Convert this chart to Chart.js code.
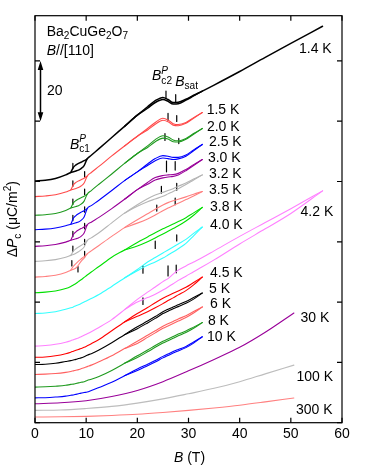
<!DOCTYPE html>
<html>
<head>
<meta charset="utf-8">
<script src="https://cdn.jsdelivr.net/npm/chart.js@4.4.0/dist/chart.umd.min.js"></script>
<style>
  html, body { margin: 0; padding: 0; background: #fff; }
  #wrap { width: 374px; height: 466px; position: relative; }
</style>
</head>
<body>
<div id="wrap"><canvas id="pcChart"></canvas></div>
<script>
'use strict'

// field grids (T)
var B_MAIN = [0, 2, 4, 6, 7, 7.5, 8, 8.5, 9, 9.6, 10.2, 11, 12.5, 15, 17.5, 20, 22, 23.5, 25, 26, 27, 28, 29.5, 31, 32.7];
var B_LONG = [0, 2, 4, 6, 7, 7.5, 8, 8.5, 9, 9.6, 10.2, 11, 12.5, 15, 17.5, 20, 22, 23.5, 25, 26, 27, 28, 29.5, 31, 32.7, 35, 40, 45, 50, 56.2];
var B_LENS = [7, 7.5, 8, 8.5, 9, 9.6, 10.2];
var B_HYST = [17.5, 20, 22, 23.5, 25, 26, 27, 28, 29.5, 31, 32.7];
var B_HYST_LONG = [17.5, 20, 22, 23.5, 25, 26, 27, 28, 29.5, 31, 32.7, 35, 40, 45, 50, 56.2];
var B_HIGH_T = [0, 5, 10, 15, 20, 25, 30, 35, 40, 45, 50.6];

// offset Delta P_c curves (uC/m^2)
var P_1_4K = [80.2, 80.4, 81, 82.2, 83, 83.25, 83.5, 83.8, 84.3, 85.3, 87.5, 88.7, 90.9, 94.6, 98.3, 102, 104.8, 106.8, 107.9, 107.2, 106.2, 106.3, 107.3, 108.6, 110, 112, 116.5, 121.2, 125.8, 131.5];
var LENS_1_4K = [83, 84.7, 85.5, 86, 86.4, 86.9, 87.5];
var HYST_1_4K = [98.3, 102, 104.3, 106.2, 107.2, 106.6, 105.7, 105.8, 107, 108.4, 110];

var P_1_5K = [75, 75.2, 75.6, 76.5, 77.2, 77.45, 77.7, 78, 78.5, 79.5, 81.8, 83, 85, 88.5, 91.8, 95, 97.6, 99.6, 101, 100.4, 99.2, 98.9, 99.6, 101.2, 102.9];
var LENS_1_5K = [77.2, 78.9, 79.7, 80.2, 80.6, 81.1, 81.8];
var HYST_1_5K = [91.8, 95, 97.1, 99, 100.3, 99.8, 98.7, 98.5, 99.3, 101, 102.9];

var P_2_0K = [68.8, 69, 69.4, 70.4, 71.2, 71.45, 71.7, 72, 72.5, 73.5, 75.8, 77, 79.1, 82.5, 86, 89.3, 91.8, 93.9, 95.2, 94.8, 93.8, 93.5, 94.3, 95.9, 97.6];
var LENS_2_0K = [71.2, 72.9, 73.7, 74.2, 74.6, 75.1, 75.8];
var HYST_2_0K = [86, 89.3, 91.3, 93.2, 94.4, 94.1, 93.2, 93.1, 94, 95.7, 97.6];

var P_2_5K = [64, 64.2, 64.6, 65.3, 65.8, 66.05, 66.3, 66.6, 67.1, 68.2, 71, 72, 73.8, 77, 80.3, 83.2, 85.8, 87.6, 88.6, 88.4, 88, 88, 88.8, 90.5, 92.3];
var LENS_2_5K = [65.8, 67.8, 68.7, 69.3, 69.8, 70.3, 71];
var HYST_2_5K = [80.3, 83.2, 85.3, 86.9, 87.8, 87.6, 87.3, 87.5, 88.4, 90.2, 92.3];

var P_3_0K = [58.5, 58.7, 59.1, 59.9, 60.5, 60.75, 61, 61.3, 61.8, 62.9, 65.6, 66.5, 68.1, 71, 74.1, 77.3, 79.7, 81.3, 82, 82.2, 82.3, 82.7, 84, 85.6, 87.3];
var LENS_3_0K = [60.5, 62.4, 63.3, 63.9, 64.4, 64.9, 65.6];
var HYST_3_0K = [74.1, 77.3, 79.1, 80.5, 81.2, 81.5, 81.7, 82.2, 83.6, 85.3, 87.3];

var P_3_2K = [53.5, 53.7, 54.1, 54.9, 55.5, 55.8, 56.2, 56.7, 57.3, 58.3, 60.4, 61.3, 63, 66.3, 69.5, 72.3, 74.3, 75.5, 76.4, 77, 77.6, 78.4, 79.5, 80.8, 82.2];
var LENS_3_2K = [55.5, 56.9, 57.7, 58.3, 58.8, 59.5, 60.4];
var HYST_3_2K = [69.5, 71.8, 73.3, 74.2, 75.1, 75.9, 76.7, 77.6, 79, 80.5, 82.2];

var P_3_5K = [48.3, 48.5, 48.9, 49.8, 50.6, 50.9, 51.3, 52.3, 53.5, 54.6, 56, 57, 58.8, 61.8, 64.7, 67.3, 69.3, 70.8, 72.2, 73, 73.6, 74.1, 74.9, 75.8, 76.7];
var LENS_3_5K = [50.6, 51.9, 52.8, 53.6, 54.3, 55.1, 56];
var HYST_3_5K = [64.7, 66.2, 67.6, 68.9, 70.3, 71.2, 72, 72.8, 74, 75.2, 76.7];

var P_3_8K = [43.1, 43.3, 43.7, 44.5, 45.2, 45.7, 46.2, 46.8, 47.4, 48.2, 49, 50, 51.8, 54.9, 57.3, 59.8, 61.6, 63, 64.3, 65.1, 65.9, 66.7, 68, 69.6, 71.4];
var HYST_3_8K = [57.3, 58.6, 60, 61.3, 62.6, 63.5, 64.4, 65.3, 66.9, 68.8, 71.4];

var P_4_0K = [36.2, 36.4, 36.8, 37.6, 38.1, 38.4, 38.8, 39.1, 39.5, 40, 40.5, 41.2, 42.5, 45.2, 48, 50.8, 53.3, 54.8, 56.3, 57.3, 58.3, 59.3, 60.8, 62.8, 64.9];
var HYST_4_0K = [48, 50.4, 52.2, 53.3, 54.6, 55.6, 56.6, 57.7, 59.5, 62, 64.9];

var P_4_2K = [25.4, 25.6, 26, 26.7, 27.2, 27.5, 27.8, 28.1, 28.5, 29, 29.5, 30.2, 31.6, 34.2, 37.5, 40.9, 43.3, 45, 46.8, 47.8, 49.3, 50.6, 52, 53.3, 54.8, 57, 61.8, 66.4, 71, 76.9];
var HYST_4_2K = [37.5, 40, 41.5, 42.6, 44, 45, 46.1, 47.2, 48.6, 50.1, 51.7, 54, 59.3, 64.3, 69.4, 76.9];

var P_4_5K = [21.7, 21.8, 22.2, 22.9, 23.4, 23.7, 24, 24.3, 24.6, 25, 25.5, 26.2, 27.6, 30.5, 33.4, 36.2, 38.2, 39.8, 41.3, 42.1, 42.9, 43.7, 44.9, 46.5, 48.3];
var HYST_4_5K = [33.4, 35.3, 36.8, 38.1, 39.5, 40.5, 41.4, 42.4, 43.8, 45.7, 48.3];

var P_5K = [19.3, 19.4, 19.7, 20.3, 20.6, 20.8, 21, 21.3, 21.5, 21.9, 22.4, 22.9, 24.1, 26.5, 29.2, 31.8, 33.7, 35.2, 36.8, 37.6, 38.4, 39.1, 40.2, 41.5, 43];
var HYST_5K = [29.2, 31.2, 33.1, 34.6, 36.2, 37, 37.8, 38.5, 39.6, 41, 43];

var P_6K = [16, 16.1, 16.3, 16.7, 17, 17.2, 17.4, 17.6, 17.9, 18.2, 18.6, 19.1, 20.2, 22.2, 24.6, 27, 29, 30.5, 32, 32.8, 33.6, 34.4, 35.5, 36.9, 38.4];
var HYST_6K = [24.6, 26.3, 28.3, 29.8, 31.3, 32.1, 32.9, 33.7, 34.9, 36.4, 38.4];

var P_8K = [11.8, 11.9, 12.1, 12.4, 12.7, 12.8, 13, 13.2, 13.4, 13.6, 14, 14.4, 15.3, 17.3, 19.7, 22.2, 24.1, 25.6, 27, 27.8, 28.6, 29.4, 30.4, 31.7, 33.2];
var HYST_8K = [19.7, 21.6, 23.5, 25, 26.4, 27.2, 28, 28.8, 29.9, 31.3, 33.2];

var P_10K = [8.25, 8.3, 8.5, 8.8, 9.1, 9.2, 9.4, 9.6, 9.8, 10, 10.2, 10.7, 11.7, 13.4, 15.6, 17.8, 19.4, 20.6, 22, 22.8, 23.6, 24.3, 25.3, 26.8, 28.5];
var HYST_10K = [15.6, 17.3, 18.9, 20.1, 21.5, 22.3, 23.1, 23.8, 24.9, 26.4, 28.5];

var P_30K = [6.3, 6.6, 7.3, 8.7, 10.7, 13.6, 17.2, 21, 25, 30, 36.4];
var P_100K = [4.1, 4.2, 4.7, 5.4, 6.5, 7.9, 9.6, 11.4, 13.6, 16.2, 19.1];
var P_300K = [1.9, 1.95, 2.1, 2.4, 2.8, 3.4, 4.1, 4.9, 5.8, 6.9, 8.2];

// critical field markers [B, y from, y to]
var BC1_MARKS = [
  [7.4, 84.2, 86.0], [9.7, 81.5, 83.3],
  [7.4, 78.4, 80.2], [9.7, 75.7, 77.5],
  [7.4, 72.4, 74.2], [9.7, 69.8, 71.6],
  [7.4, 67.0, 68.8], [9.7, 64.3, 66.1],
  [7.4, 61.7, 63.5], [9.7, 59.0, 60.8],
  [7.4, 56.8, 58.6], [9.7, 55.0, 56.8],
  [7.2, 52.0, 53.8], [8.4, 50.0, 51.8]
];
var BC2_MARKS = [
  [25.6, 107.6, 110.0], [27.5, 106.4, 108.8],
  [26.0, 100.3, 102.6], [27.7, 99.9, 101.9],
  [25.4, 93.6, 95.9], [28.1, 92.6, 94.3],
  [25.7, 83.2, 86.8], [27.4, 83.8, 86.6],
  [24.7, 76.1, 78.4], [27.7, 77.1, 79.4],
  [23.8, 70.2, 72.2], [27.4, 72.3, 74.5],
  [23.5, 57.8, 60.2], [27.7, 60.3, 62.3],
  [21.1, 49.6, 52.0], [26.0, 48.7, 52.0], [27.6, 49.7, 52.3],
  [21.1, 39.2, 41.4]
];

var X_TICKS = [0, 10, 20, 30, 40, 50, 60];
var Y_TICKS = [0, 20, 40, 60, 80, 100, 120];

var TEMPS = ['1.4 K', '1.5 K', '2.0 K', '2.5 K', '3.0 K', '3.2 K', '3.5 K', '3.8 K', '4.0 K',
             '4.2 K', '4.5 K', '5 K', '6 K', '8 K', '10 K', '30 K', '100 K', '300 K'];
// where each temperature label sits (B, y)
var TEMP_AT = [[51.6, 124.0], [33.55, 103.6], [33.6, 98.2], [34.0, 93.0], [33.8, 87.7], [34.0, 82.5],
               [34.0, 77.0], [34.2, 71.5], [34.2, 65.5], [51.9, 69.9], [34.2, 49.5], [34.0, 44.2],
               [34.2, 39.3], [33.8, 33.8], [33.6, 28.5], [51.9, 34.7], [51.1, 15.1], [51.0, 4.1]];

var FONT = '"Liberation Sans", Arial, sans-serif';

var curves = [
  {c: '#000000', b: B_LONG, y: P_1_4K, lens: LENS_1_4K, hb: B_HYST, h: HYST_1_4K, w: 1.5},
  {c: '#ff4a4a', b: B_MAIN, y: P_1_5K, lens: LENS_1_5K, hb: B_HYST, h: HYST_1_5K},
  {c: '#1f9a1f', b: B_MAIN, y: P_2_0K, lens: LENS_2_0K, hb: B_HYST, h: HYST_2_0K},
  {c: '#0000ff', b: B_MAIN, y: P_2_5K, lens: LENS_2_5K, hb: B_HYST, h: HYST_2_5K},
  {c: '#990099', b: B_MAIN, y: P_3_0K, lens: LENS_3_0K, hb: B_HYST, h: HYST_3_0K},
  {c: '#b5b5b5', b: B_MAIN, y: P_3_2K, lens: LENS_3_2K, hb: B_HYST, h: HYST_3_2K},
  {c: '#ff8080', b: B_MAIN, y: P_3_5K, lens: LENS_3_5K, hb: B_HYST, h: HYST_3_5K},
  {c: '#00e000', b: B_MAIN, y: P_3_8K, hb: B_HYST, h: HYST_3_8K},
  {c: '#33ffff', b: B_MAIN, y: P_4_0K, hb: B_HYST, h: HYST_4_0K},
  {c: '#ff80ff', b: B_LONG, y: P_4_2K, hb: B_HYST_LONG, h: HYST_4_2K},
  {c: '#ff0000', b: B_MAIN, y: P_4_5K, hb: B_HYST, h: HYST_4_5K},
  {c: '#000000', b: B_MAIN, y: P_5K, hb: B_HYST, h: HYST_5K},
  {c: '#ff6060', b: B_MAIN, y: P_6K, hb: B_HYST, h: HYST_6K},
  {c: '#1f9a1f', b: B_MAIN, y: P_8K, hb: B_HYST, h: HYST_8K},
  {c: '#0000ff', b: B_MAIN, y: P_10K, hb: B_HYST, h: HYST_10K},
  {c: '#990099', b: B_HIGH_T, y: P_30K},
  {c: '#bdbdbd', b: B_HIGH_T, y: P_100K},
  {c: '#ff8080', b: B_HIGH_T, y: P_300K}
];

function pts(bs, ys) {
  return bs.map(function(b, i) { return {x: b, y: ys[i]}; });
}

function segs(list) {
  var out = [];
  list.forEach(function(m) {
    out.push({x: m[0], y: m[1]}, {x: m[0], y: m[2]}, {x: m[0], y: null});
  });
  return out;
}

var datasets = [];
curves.forEach(function(cv, i) {
  var base = {borderColor: cv.c, borderWidth: cv.w || 1.1, pointRadius: 0, fill: false,
              cubicInterpolationMode: 'monotone'};
  datasets.push(Object.assign({label: TEMPS[i], data: pts(cv.b, cv.y)}, base));
  if (cv.lens) datasets.push(Object.assign({label: TEMPS[i] + ' b', data: pts(B_LENS, cv.lens)}, base));
  if (cv.h) datasets.push(Object.assign({label: TEMPS[i] + ' h', data: pts(cv.hb, cv.h)}, base));
});
datasets.push({label: 'marks', data: segs(BC1_MARKS.concat(BC2_MARKS)), borderColor: '#000',
               borderWidth: 1.2, pointRadius: 0, tension: 0, spanGaps: false});

// draw rich text: parts = [text, mode, italic]
function rich(ctx, parts, x, y, size, measureOnly) {
  var cx = x;
  parts.forEach(function(p) {
    var mode = p[1] || '';
    var fs = mode ? size * 0.72 : size;
    var dy = 0;
    if (mode === 'sub') dy = size * 0.32;
    if (mode === 'sup' || mode === 'supstack') dy = -size * 0.4;
    ctx.font = (p[2] ? 'italic ' : '') + fs + 'px ' + FONT;
    if (!measureOnly) ctx.fillText(p[0], cx, y + dy);
    if (mode !== 'supstack') cx += ctx.measureText(p[0]).width;
  });
  return cx - x;
}

var decor = {
  id: 'decor',
  afterDraw: function(chart) {
    var ctx = chart.ctx, a = chart.chartArea;
    var xs = chart.scales.x, ys = chart.scales.y;
    var X = function(v) { return xs.getPixelForValue(v); };
    var Y = function(v) { return ys.getPixelForValue(v); };
    ctx.save();
    ctx.strokeStyle = '#000';
    ctx.fillStyle = '#000';
    ctx.lineWidth = 1.2;
    ctx.strokeRect(a.left, a.top, a.right - a.left, a.bottom - a.top);

    // inward ticks on all four sides
    ctx.beginPath();
    X_TICKS.forEach(function(v) {
      var px = X(v);
      ctx.moveTo(px, a.bottom); ctx.lineTo(px, a.bottom - 5);
      ctx.moveTo(px, a.top); ctx.lineTo(px, a.top + 5);
    });
    Y_TICKS.forEach(function(v) {
      var py = Y(v);
      ctx.moveTo(a.left, py); ctx.lineTo(a.left + 5, py);
      ctx.moveTo(a.right, py); ctx.lineTo(a.right - 5, py);
    });
    ctx.stroke();

    ctx.textBaseline = 'middle';
    ctx.textAlign = 'left';

    // temperature labels
    ctx.font = '14px ' + FONT;
    TEMPS.forEach(function(t, i) {
      ctx.fillText(t, X(TEMP_AT[i][0]), Y(TEMP_AT[i][1]));
    });

    // sample + field direction
    rich(ctx, [['Ba'], ['2', 'sub'], ['CuGe'], ['2', 'sub'], ['O'], ['7', 'sub']], X(2.28), Y(129.6), 14);
    rich(ctx, [['B', '', 1], ['//[110]']], X(2.28), Y(123.3), 14);

    // scale bar
    var bx = Math.round(X(0.98)) + 0.5, y1 = Y(120), y2 = Y(100);
    ctx.lineWidth = 1.5;
    ctx.beginPath();
    ctx.moveTo(bx, y1 + 5); ctx.lineTo(bx, y2 - 5);
    ctx.stroke();
    ctx.beginPath();
    ctx.moveTo(bx, y1); ctx.lineTo(bx - 2.8, y1 + 9); ctx.lineTo(bx + 2.8, y1 + 9); ctx.closePath();
    ctx.moveTo(bx, y2); ctx.lineTo(bx - 2.8, y2 - 9); ctx.lineTo(bx + 2.8, y2 - 9); ctx.closePath();
    ctx.fill();
    ctx.font = '14px ' + FONT;
    ctx.fillText('20', X(2.35), Y(110.1));

    // critical field labels
    rich(ctx, [['B', '', 1], ['P', 'supstack', 1], ['c1', 'sub']], X(6.84), Y(92.2), 14);
    rich(ctx, [['B', '', 1], ['P', 'supstack', 1], ['c2', 'sub']], X(22.87), Y(114.8), 14);
    rich(ctx, [['B', '', 1], ['sat', 'sub']], X(27.4), Y(113.1), 14);

    // axis titles
    var xt = [['B', '', 1], [' (T)']];
    var w = rich(ctx, xt, 0, 0, 14, true);
    rich(ctx, xt, (a.left + a.right) / 2 - w / 2 + 1, 458, 14);

    var yt = [['\u0394'], ['P', '', 1], ['c', 'sub'], [' (\u03bcC/m'], ['2', 'sup'], [')']];
    ctx.translate(13.5, (a.top + a.bottom) / 2);
    ctx.rotate(-Math.PI / 2);
    w = rich(ctx, yt, 0, 0, 14, true);
    rich(ctx, yt, -w / 2, 0, 14);
    ctx.restore();
  }
};

var chart = new Chart(document.getElementById('pcChart'), {
  type: 'line',
  data: { datasets: datasets },
  options: {
    responsive: true,
    maintainAspectRatio: false,
    animation: false,
    devicePixelRatio: 1,
    layout: { padding: { left: 35, right: 32, top: 15.7, bottom: 20.5 } },
    plugins: { legend: { display: false }, tooltip: { enabled: false } },
    elements: { line: { borderCapStyle: 'round' } },
    scales: {
      x: {
        type: 'linear', min: 0, max: 60,
        grid: { display: false, drawTicks: false },
        border: { display: false },
        ticks: { stepSize: 10, padding: 3, color: '#000', font: { family: FONT, size: 14 } }
      },
      y: {
        type: 'linear', min: 0, max: 135,
        grid: { display: false, drawTicks: false },
        border: { display: false },
        ticks: { display: false, stepSize: 20 }
      }
    }
  },
  plugins: [decor]
});
</script>
</body>
</html>
